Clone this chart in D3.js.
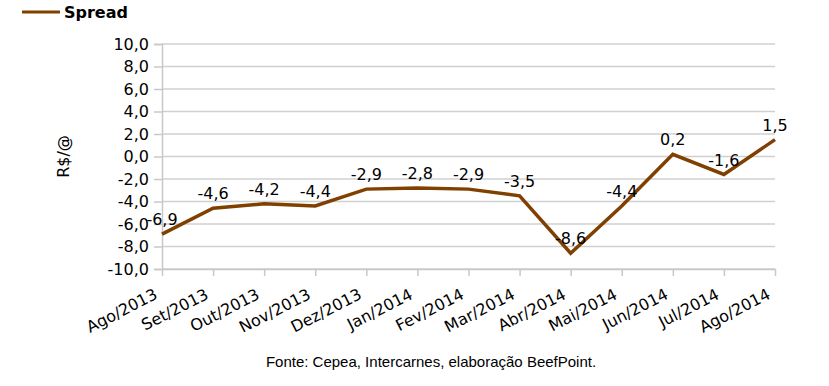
<!DOCTYPE html>
<html>
<head>
<meta charset="utf-8">
<script src="https://cdn.jsdelivr.net/npm/d3@7"></script>
<style>
  body { margin: 0; background: #fff; }
  text { font-family: "DejaVu Sans", Verdana, sans-serif; }
</style>
</head>
<body>
<div id="chart"></div>
<script>
// data
var months = ["Ago/2013", "Set/2013", "Out/2013", "Nov/2013", "Dez/2013", "Jan/2014", "Fev/2014",
  "Mar/2014", "Abr/2014", "Mai/2014", "Jun/2014", "Jul/2014", "Ago/2014"];
var spread = [-6.9, -4.6, -4.2, -4.4, -2.9, -2.8, -2.9, -3.5, -8.6, -4.4, 0.2, -1.6, 1.5];
var yTicks = [-10, -8, -6, -4, -2, 0, 2, 4, 6, 8, 10];

var svgWidth = 829, svgHeight = 386;
var margin = { top: 44, right: 54, bottom: 117, left: 162 };
var width = svgWidth - margin.left - margin.right;
var height = svgHeight - margin.top - margin.bottom;
var brown = "#7f4000";
var fs = 16;
var fmt = d => d3.format(".1f")(d).replace(".", ",").replace("−", "-");

var svg = d3.select("#chart").append("svg")
  .attr("width", svgWidth)
  .attr("height", svgHeight);

var chartGroup = svg.append("g")
  .attr("transform", `translate(${margin.left}, ${margin.top})`);

var x = d3.scalePoint().domain(months).range([0, width]);
var y = d3.scaleLinear().domain([-10, 10]).range([height, 0]);

// grid
chartGroup.append("g")
  .selectAll("line")
  .data(yTicks)
  .join("line")
  .attr("x1", 0).attr("x2", width)
  .attr("y1", d => y(d)).attr("y2", d => y(d))
  .attr("stroke", "#d0d0d0")
  .attr("stroke-width", 1.5);

// y axis
var leftAxis = d3.axisLeft(y).tickValues(yTicks).tickSize(8).tickPadding(5).tickFormat(fmt);
var gy = chartGroup.append("g").call(leftAxis);
gy.select(".domain").attr("stroke", "#c8c8c8").attr("stroke-width", 1.5);
gy.selectAll(".tick line").attr("stroke", "#c8c8c8").attr("stroke-width", 1.5);
gy.selectAll("text").attr("font-size", fs).attr("fill", "#000")
  .style("font-family", "DejaVu Sans");

// x axis
var bottomAxis = d3.axisBottom(x).tickSize(7).tickSizeOuter(0);
var gx = chartGroup.append("g")
  .attr("transform", `translate(0, ${height})`)
  .call(bottomAxis);
gx.select(".domain").attr("stroke", "#c8c8c8").attr("stroke-width", 1.5);
gx.selectAll(".tick line").attr("stroke", "#c8c8c8").attr("stroke-width", 1.5);
gx.selectAll("text")
  .attr("font-size", fs).attr("fill", "#000")
  .style("font-family", "DejaVu Sans")
  .attr("text-anchor", "end")
  .attr("dy", null)
  .attr("y", 0)
  .attr("transform", "translate(-4, 29) rotate(-27)");

// line
var line = d3.line()
  .x((d, i) => x(months[i]))
  .y(d => y(d));

chartGroup.append("path")
  .datum(spread)
  .attr("d", line)
  .attr("fill", "none")
  .attr("stroke", brown)
  .attr("stroke-width", 3.5)
  .attr("stroke-linejoin", "miter");

// data labels
chartGroup.append("g")
  .selectAll("text")
  .data(spread)
  .join("text")
  .attr("x", (d, i) => x(months[i]))
  .attr("y", d => y(d) - 9)
  .attr("text-anchor", "middle")
  .attr("font-size", fs)
  .attr("fill", "#000")
  .text(d => fmt(d));

// y axis title
svg.append("text")
  .attr("transform", `translate(69, ${margin.top + height / 2}) rotate(-90)`)
  .attr("text-anchor", "middle")
  .attr("font-size", fs)
  .text("R$/@");

// legend
svg.append("line")
  .attr("x1", 22).attr("x2", 60)
  .attr("y1", 12).attr("y2", 12)
  .attr("stroke", brown)
  .attr("stroke-width", 3);
svg.append("text")
  .attr("x", 64).attr("y", 18)
  .attr("font-size", fs)
  .attr("font-weight", "bold")
  .text("Spread");

// source
svg.append("text")
  .attr("x", 431).attr("y", 367)
  .attr("text-anchor", "middle")
  .attr("font-size", 15)
  .style("font-family", "Liberation Sans, Arial, sans-serif")
  .text("Fonte: Cepea, Intercarnes, elaboração BeefPoint.");
</script>
</body>
</html>
